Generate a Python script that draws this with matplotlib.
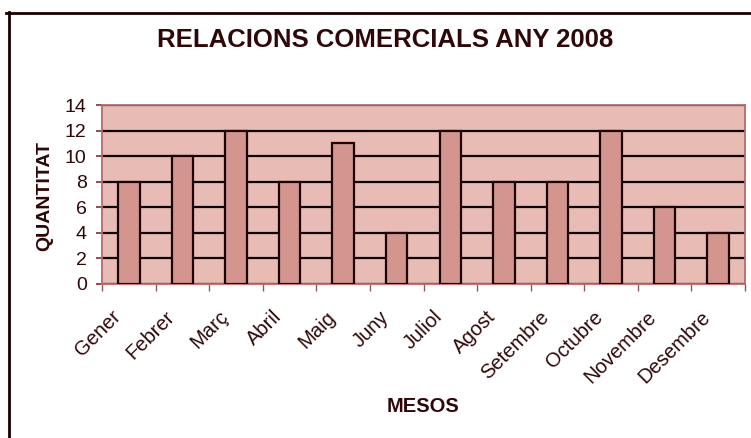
import matplotlib
matplotlib.use("Agg")
import matplotlib.pyplot as plt
import matplotlib.transforms as mtransforms
from matplotlib.lines import Line2D

plt.rcParams['font.family'] = ['Liberation Sans', 'DejaVu Sans']

# Monthly commercial relations, 2008
months = ["Gener", "Febrer", "Març", "Abril", "Maig", "Juny",
          "Juliol", "Agost", "Setembre", "Octubre", "Novembre", "Desembre"]
quantities = [8, 10, 12, 8, 11, 4, 12, 8, 8, 12, 6, 4]
y_ticks = [0, 2, 4, 6, 8, 10, 12, 14]

TEXT = "#2e0808"
BG = "#e8bbb5"
BAR = "#d4958f"
EDGE = "#1c0404"

W, H = 751, 438
fig = plt.figure(figsize=(W / 100, H / 100), dpi=100)
fig.patch.set_facecolor("white")

left, right, top, bottom = 102, 745, 105, 284
ax = fig.add_axes([left / W, 1 - bottom / H, (right - left) / W, (bottom - top) / H])
ax.set_facecolor(BG)

x = list(range(len(months)))
ax.bar(x, quantities, width=0.4, color=BAR, edgecolor=EDGE, linewidth=1.6, zorder=3)

ax.set_xlim(-0.5, len(months) - 0.5)
ax.set_ylim(0, 14)
ax.set_yticks(y_ticks)
ax.set_yticklabels([str(v) for v in y_ticks], fontsize=14, color=TEXT)
ax.yaxis.grid(True, color="#0a0000", linewidth=1.6, zorder=1)
ax.set_axisbelow(True)
ax.tick_params(axis="y", direction="out", length=4, width=1.2, color="#7a3030", pad=7)

# category boundaries carry the x ticks
ax.set_xticks([i - 0.5 for i in range(len(months) + 1)])
ax.set_xticklabels([])
ax.tick_params(axis="x", direction="out", length=5, width=1.0, color="#8a5a5a")

for s in ax.spines.values():
    s.set_color("#b86a6a")
    s.set_linewidth(1.3)

# rotated month labels
base = mtransforms.blended_transform_factory(ax.transData, ax.transAxes)
offset = mtransforms.ScaledTranslation(-11 / 100, -30 / 100, fig.dpi_scale_trans)
for i, m in enumerate(months):
    ax.text(i, 0, m, transform=base + offset, rotation=45, rotation_mode="anchor",
            ha="right", va="center", fontsize=14.5, color=TEXT)

fig.text(385 / W, 1 - 40 / H, "RELACIONS COMERCIALS ANY 2008", ha="center", va="center",
         fontsize=18.5, fontweight="bold", color=TEXT)
fig.text(45 / W, 1 - 196 / H, "QUANTITAT", rotation=90, ha="center", va="center",
         fontsize=14, fontweight="bold", color=TEXT)
fig.text(423 / W, 1 - 407 / H, "MESOS", ha="center", va="center",
         fontsize=14.5, fontweight="bold", color=TEXT)

# outer chart frame (top and left edges)
fig.add_artist(Line2D([6 / W, 1.0], [1 - 12.5 / H, 1 - 12.5 / H], transform=fig.transFigure,
                      color="#1a0000", linewidth=2))
fig.add_artist(Line2D([9 / W, 9 / W], [1 - 11.5 / H, 0.0], transform=fig.transFigure,
                      color="#1a0000", linewidth=2))

fig.savefig("out.png", dpi=100)
